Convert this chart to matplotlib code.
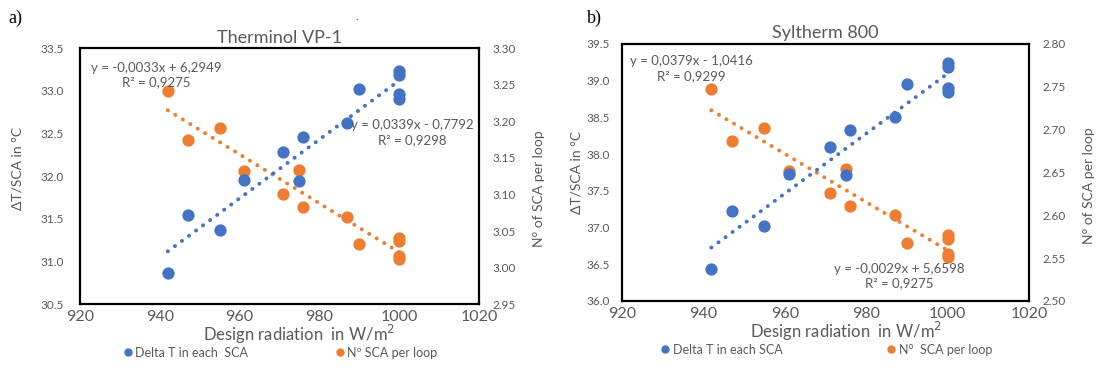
import numpy as np
import matplotlib
matplotlib.use("Agg")
import matplotlib.pyplot as plt
from matplotlib.lines import Line2D

plt.rcParams['font.family'] = ['Lato', 'DejaVu Sans']

BLUE = '#4472C4'
ORANGE = '#ED7D31'
GREY = '#595959'

# design radiation (W/m2), same sites in both panels
radiation = [942, 947, 955, 961, 971, 975, 976, 987, 990, 1000, 1000, 1000, 1000]

# a) Therminol VP-1
dT_vp1 = [30.87, 31.55, 31.37, 31.96, 32.28, 31.94, 32.46, 32.62, 33.02, 33.23, 33.19, 32.96, 32.91]
nsca_vp1 = [3.242, 3.174, 3.191, 3.132, 3.101, 3.134, 3.083, 3.069, 3.032, 3.041, 3.037, 3.016, 3.012]

# b) Syltherm 800
dT_syl = [36.43, 37.23, 37.02, 37.73, 38.10, 37.71, 38.33, 38.50, 38.96, 39.24, 39.18, 38.90, 38.84]
nsca_syl = [2.747, 2.687, 2.702, 2.652, 2.626, 2.654, 2.611, 2.600, 2.568, 2.577, 2.572, 2.555, 2.551]

xticks = [920, 940, 960, 980, 1000, 1020]


def trend(ax, x, y, color):
    k, b = np.polyfit(x, y, 1)
    xs = np.array([min(x), max(x)])
    ax.plot(xs, k * xs + b, color=color, lw=2.8,
            linestyle=(0, (0.05, 2.2)), dash_capstyle='round', zorder=2)


def panel(rect, title, dT, nsca, ylim_l, yticks_l, ylim_r, yticks_r,
          eq_dT, eq_n, pads, legend_spacing, ylab_pos):
    ax = fig.add_axes(rect)
    ax2 = ax.twinx()
    ax.set_zorder(ax2.get_zorder() + 1)
    ax.patch.set_visible(False)

    trend(ax2, radiation, nsca, ORANGE)
    trend(ax, radiation, dT, BLUE)
    ax2.scatter(radiation, nsca, s=78, color=ORANGE, zorder=3, linewidths=0)
    ax.scatter(radiation, dT, s=78, color=BLUE, zorder=3, linewidths=0)

    ax.set_xlim(920, 1020)
    ax.set_xticks(xticks)
    ax.set_ylim(*ylim_l)
    ax.set_yticks(yticks_l)
    ax.set_yticklabels([f'{v:.1f}' for v in yticks_l])
    ax2.set_ylim(*ylim_r)
    ax2.set_yticks(yticks_r)
    ax2.set_yticklabels([f'{v:.2f}' for v in yticks_r])

    ax.tick_params(axis='x', length=0, pad=4, labelsize=11.5, labelcolor=GREY)
    ax.tick_params(axis='y', length=0, pad=pads[0], labelsize=8.5, labelcolor=GREY)
    ax2.tick_params(axis='y', length=0, pad=pads[1], labelsize=8.5, labelcolor=GREY)

    for s in ax.spines.values():
        s.set_color('black')
        s.set_linewidth(1.6)
    for s in ax2.spines.values():
        s.set_visible(False)

    ax.set_title(title, fontsize=13, color=GREY, pad=4)
    ax.set_xlabel('Design radiation  in W/m$^2$', fontsize=12, color=GREY)
    ax.xaxis.set_label_coords(0.55, -0.075)
    ax.set_ylabel('ΔT/SCA in °C', fontsize=10, color=GREY)
    ax.yaxis.set_label_coords(ylab_pos[0], ylab_pos[1])
    ax2.set_ylabel('N° of SCA per loop', fontsize=10, color=GREY)
    ax2.yaxis.set_label_coords(ylab_pos[2], ylab_pos[3])

    for (tx, ty, txt) in (eq_dT, eq_n):
        ax.text(tx, ty, txt, transform=ax.transAxes, ha='center', va='center',
                fontsize=9.5, color=GREY, linespacing=1.25, zorder=5)

    handles = [Line2D([], [], ls='', marker='o', ms=5, color=BLUE, label=legend_spacing[1]),
               Line2D([], [], ls='', marker='o', ms=5, color=ORANGE, label=legend_spacing[2])]
    ax.legend(handles=handles, ncol=2, loc='center', bbox_to_anchor=(0.5, -0.19),
              frameon=False, fontsize=9, handletextpad=0.1, handlelength=1,
              columnspacing=legend_spacing[0], labelcolor=GREY)
    return ax


fig = plt.figure(figsize=(10.98, 3.70), dpi=100)

panel([0.0729, 0.178, 0.3633, 0.6915], 'Therminol VP-1', dT_vp1, nsca_vp1,
      (30.5, 33.5), [30.5, 31.0, 31.5, 32.0, 32.5, 33.0, 33.5],
      (2.95, 3.30), [2.95, 3.00, 3.05, 3.10, 3.15, 3.20, 3.25, 3.30],
      (0.833, 0.67, 'y = 0,0339x - 0,7792\nR² = 0,9298'),
      (0.19, 0.895, 'y = -0,0033x + 6,2949\nR² = 0,9275'),
      (12, 10), (6.8, 'Delta T in each  SCA', 'Nº SCA per loop'),
      (-0.143, 0.53, 1.135, 0.45))

panel([0.5662, 0.1865, 0.3712, 0.6946], 'Syltherm 800', dT_syl, nsca_syl,
      (36.0, 39.5), [36.0, 36.5, 37.0, 37.5, 38.0, 38.5, 39.0, 39.5],
      (2.50, 2.80), [2.50, 2.55, 2.60, 2.65, 2.70, 2.75, 2.80],
      (0.171, 0.905, 'y = 0,0379x - 1,0416\nR² = 0,9299'),
      (0.682, 0.096, 'y = -0,0029x + 5,6598\nR² = 0,9275'),
      (8.4, 9.6), (8.2, 'Delta T in each SCA', 'N°  SCA per loop'),
      (-0.097, 0.5, 1.132, 0.45))

fig.text(0.008, 0.951, 'a)', fontsize=13, family='Liberation Serif', va='center')
fig.text(0.535, 0.951, 'b)', fontsize=13, family='Liberation Serif', va='center')
fig.text(0.324, 0.955, '.', fontsize=8, color=GREY, va='center')

fig.savefig('out.png', dpi=100)
